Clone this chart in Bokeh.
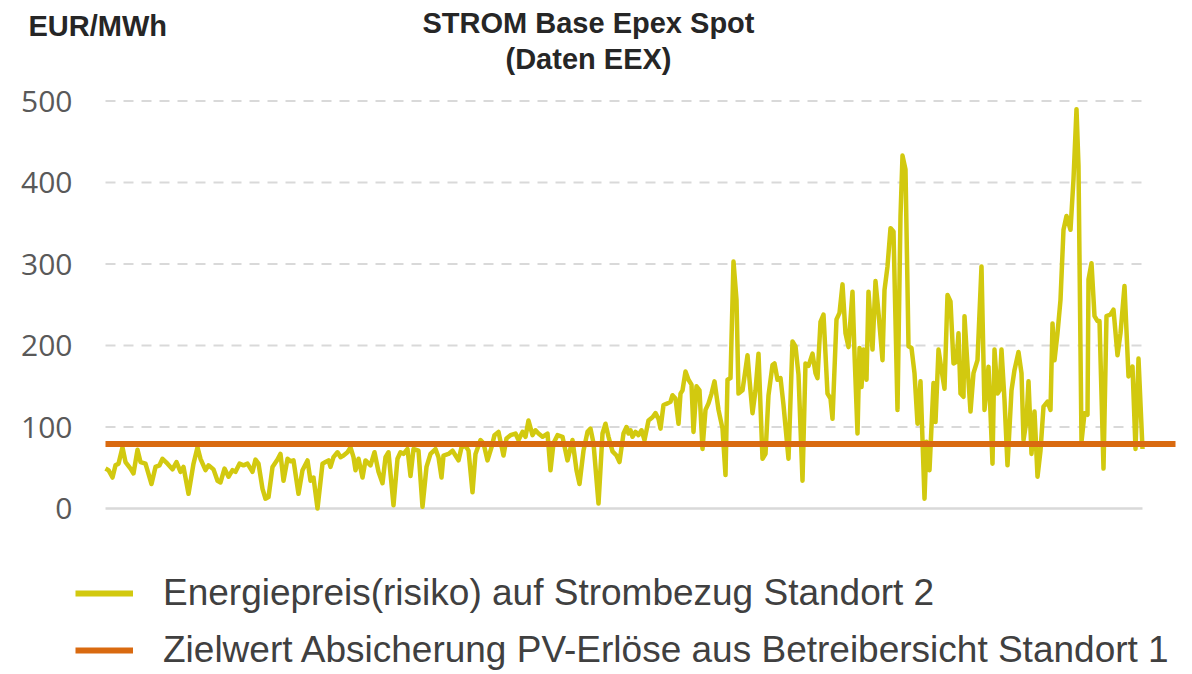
from bokeh.plotting import figure
from bokeh.models import Range1d, FixedTicker, Label, Legend, LegendItem
from bokeh.embed import file_html
from bokeh.resources import INLINE

# ---------------- data ----------------
# time axis (days since start of series)
tage = [
    0, 3, 7, 10, 13, 17, 20, 25, 28, 32, 35, 40, 46, 50, 54, 57, 62, 67, 71, 75,
    78, 83, 88, 92, 95, 100, 103, 108, 112, 115, 119, 123, 127, 130, 134, 138, 142, 147, 150, 153,
    157, 160, 163, 167, 172, 175,
    178, 182, 185, 188, 193, 197, 202, 205, 208, 212, 217, 220, 223, 225, 228, 232, 235, 238, 242, 245,
    248, 250, 253, 257, 260, 265, 269, 273, 277, 280, 283, 288, 292, 295, 298, 302, 305, 308, 313, 317,
    321, 325, 330, 333, 336, 338, 343, 347,
    350, 353, 356, 360, 363, 367, 370, 375, 378, 382, 386, 389, 393, 398, 401, 405, 410, 413, 417, 420,
    423, 427, 430, 433, 437, 442, 445, 448, 452, 457, 462, 467, 471, 474, 478, 482, 485, 488, 493, 497,
    500, 503, 507, 511, 514, 518,
    521, 523, 525, 527, 530, 533, 536, 539, 543, 547, 550, 553, 555, 558, 562, 565, 567, 570, 573, 575,
    577, 580, 583, 586, 588, 591, 594, 597, 600, 603, 606, 609, 613, 617, 620, 622, 625, 628, 631, 633,
    637, 639, 642, 644, 647, 650, 653, 657, 660, 663, 667, 669, 672, 675, 678, 683, 687, 690, 693, 697,
    700, 703, 707, 710, 712, 715, 718, 722, 725, 727, 731, 734, 737, 740, 743, 747, 749, 752, 754, 756,
    758, 761, 763, 767, 770, 773, 777, 779, 782, 785, 788, 792, 795, 797, 800, 803, 806, 809, 812, 815,
    819, 821, 824, 828, 830, 833, 836, 839, 842, 845, 848, 851, 853, 855, 858, 859, 862, 865, 868, 872,
    876, 879, 883, 885, 887, 889, 892, 894, 896, 899, 902, 906, 909, 913, 916, 918, 921, 923, 926, 929,
    932, 935, 938, 942, 945, 947, 949, 952, 955, 958, 961, 965, 968, 971, 973, 976, 979, 982, 983, 986,
    989, 992, 994, 998, 1001, 1005, 1008, 1012, 1015, 1019, 1023, 1027, 1030, 1033, 1037,
]

# STROM Base Epex Spot price, EUR/MWh
preis = [
    49, 47, 38, 53, 55, 75, 57, 49, 43, 72, 57, 55, 30, 51, 53, 61, 55, 48, 57, 45,
    51, 18, 55, 75, 61, 47, 53, 48, 34, 32, 49, 39, 47, 45, 55, 53, 55, 45, 60, 55,
    24, 12, 14, 51, 60, 67,
    34, 61, 58, 59, 18, 47, 59, 34, 38, 0, 55, 57, 59, 51, 63, 69, 63, 65, 69, 75,
    63, 47, 61, 38, 59, 53, 69, 45, 31, 63, 69, 4, 61, 69, 67, 73, 40, 73, 71, 2,
    51, 67, 73, 63, 38, 65, 67, 71,
    65, 59, 75, 77, 71, 20, 67, 84, 80, 59, 75, 90, 94, 65, 86, 90, 92, 84, 94, 88,
    108, 90, 96, 92, 88, 92, 47, 80, 90, 88, 59, 84, 47, 30, 71, 94, 98, 80, 6, 92,
    104, 88, 70, 65, 57, 92,
    100, 92, 96, 88, 94, 90, 96, 84, 108, 112, 117, 110, 98, 127, 129, 131, 139, 135, 104, 141,
    145, 168, 158, 152, 94, 150, 145, 73, 121, 129, 141, 156, 121, 98, 41, 158, 160, 303, 256, 141,
    145, 162, 188, 158, 117, 145, 190, 61, 67, 139, 176, 178, 158, 160, 127, 61, 205, 199, 164, 34,
    178, 175, 190, 166, 160, 229, 238, 141, 135, 110, 232, 240, 275, 215, 198, 266, 190, 92, 197, 149,
    195, 158, 266, 195, 279, 240, 182, 268, 297, 344, 340, 121, 359, 433, 416, 199, 197, 166, 104, 156,
    12, 82, 47, 154, 106, 195, 170, 147, 262, 254, 178, 180, 215, 141, 137, 236, 175, 119, 166, 182,
    297, 121, 174, 117, 55, 195, 141, 145, 195, 133, 53, 145, 170, 192, 166, 84, 108, 156, 67, 119,
    39, 71, 125, 131, 121, 227, 182, 215, 256, 342, 359, 342, 404, 490, 420, 82, 117, 115, 281, 301,
    236, 230, 230, 49, 236, 238, 244, 188, 215, 273, 162, 174, 73, 184, 73,
]

ziel_tage = [0, 1070]
ziel_wert = [79, 79]

y_ticks = [0, 100, 200, 300, 400, 500]

label_serie = "Energiepreis(risiko) auf Strombezug Standort 2"
label_ziel = "Zielwert Absicherung PV-Erlöse aus Betreibersicht Standort 1"
titel_1 = "STROM Base Epex Spot"
titel_2 = "(Daten EEX)"
einheit = "EUR/MWh"

# ---------------- styles ----------------
GELB = "#D2C90F"
ORANGE = "#D96A10"
GRID = "#D9D9D9"
W, H = 1190, 672
NAN = float("nan")

p = figure(
    width=W, height=H,
    x_range=Range1d(-105, W - 105), y_range=Range1d((508 - H) / 0.815, 508 / 0.815),
    x_axis_type=None,
    output_backend="svg", toolbar_location=None, title=None,
    min_border_left=0, min_border_right=0, min_border_top=0, min_border_bottom=0,
)
p.outline_line_color = None
p.xgrid.visible = False
p.ygrid.visible = False

# y-axis: only the labels, drawn to the right of the (hidden) axis rule
ax = p.yaxis[0]
ax.ticker = FixedTicker(ticks=y_ticks)
ax.axis_line_color = None
ax.major_tick_line_color = None
ax.minor_tick_line_color = None
ax.major_tick_out = 0
ax.major_tick_in = 0
ax.major_label_text_font = "Open Sans"
ax.major_label_text_font_size = "30px"
ax.major_label_text_color = "#595959"
ax.major_label_standoff = -72

# grid lines limited to the data extent
x0 = min(tage)
x1 = max(tage)
p.segment(x0=[x0] * (len(y_ticks) - 1), x1=[x1] * (len(y_ticks) - 1),
          y0=y_ticks[1:], y1=y_ticks[1:], line_color=GRID, line_width=2,
          line_dash="10 8")
p.segment(x0=[x0], x1=[x1], y0=y_ticks[:1], y1=y_ticks[:1],
          line_color=GRID, line_width=2.5)

r1 = p.line(tage, preis, line_color=GELB, line_width=4.5, line_join="round")
r2 = p.line(ziel_tage, ziel_wert, line_color=ORANGE, line_width=6)

# legend swatches (slightly thicker than the plotted series line); no visible data
s1 = p.line([NAN], [NAN], line_color=GELB, line_width=6)

legend = Legend(
    items=[LegendItem(label=label_serie, renderers=[s1]),
           LegendItem(label=label_ziel, renderers=[r2])],
    location=(75, 0),
    orientation="vertical",
    glyph_width=58, glyph_height=44, label_height=44,
    label_standoff=30, spacing=13, padding=0, margin=0,
    label_text_font="Liberation Sans", label_text_font_size="37px",
    label_text_color="#404040",
    border_line_color=None, background_fill_alpha=0,
)
p.add_layout(legend, "center")

bold = dict(x_units="screen", y_units="screen", text_baseline="middle",
            text_font="Liberation Sans", text_font_style="bold",
            text_font_size="29px", text_color="#262626")
p.add_layout(Label(x=588, y=H - 22, text=titel_1, text_align="center", **bold))
p.add_layout(Label(x=588, y=H - 58, text=titel_2, text_align="center", **bold))
p.add_layout(Label(x=28, y=H - 25, text=einheit, text_align="left", **bold))

open("out.html", "w").write(file_html(p, INLINE))
